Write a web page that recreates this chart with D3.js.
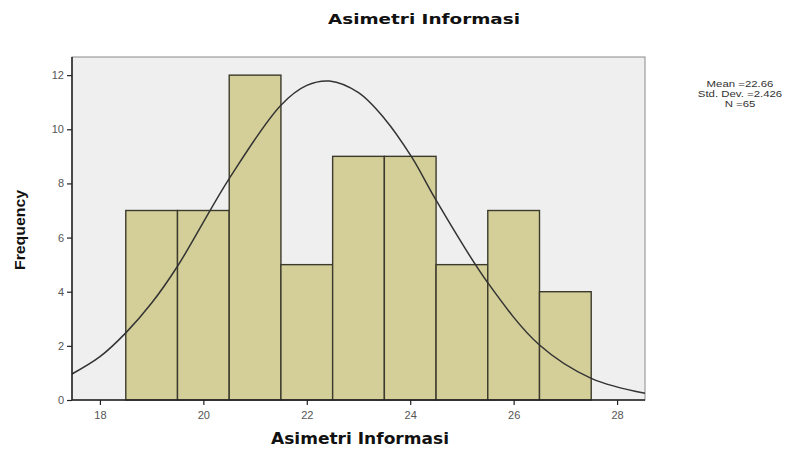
<!DOCTYPE html>
<html>
<head>
<meta charset="utf-8">
<script src="https://cdn.jsdelivr.net/npm/d3@7"></script>
<style>
  body { margin: 0; background: #fff; }
  svg { display: block; font-family: "Liberation Sans", Arial, sans-serif; }
  .tick text { fill: #555; font-size: 11px; }
</style>
</head>
<body>
<script>
// histogram bins (centre of each bin, width 1)
var binCenters = [19, 20, 21, 22, 23, 24, 25, 26, 27];
var frequencies = [7, 7, 12, 5, 9, 9, 5, 7, 4];

// normal curve, points
var curveX = [17.46, 18.0, 18.5, 19.0, 19.5, 20.5, 21.5, 22.0, 22.44, 23.0, 23.5, 24.03, 24.5, 25.5, 26.5, 27.5, 28.54];
var curveY = [0.96, 1.6, 2.48, 3.58, 4.94, 8.18, 10.89, 11.62, 11.78, 11.35, 10.4, 8.97, 7.38, 4.33, 2.03, 0.80, 0.25];

var xTicks = [18, 20, 22, 24, 26, 28];
var yTicks = [0, 2, 4, 6, 8, 10, 12];
var stats = ["Mean =22.66", "Std. Dev. =2.426", "N =65"];

var W = 807, H = 451;
var m = {left: 72, right: 162, top: 57, bottom: 51};

var svg = d3.select("body").append("svg").attr("width", W).attr("height", H);

var x = d3.scaleLinear().domain([17.46, 28.54]).range([m.left, W - m.right]);
var y = d3.scaleLinear().domain([0, 12.67]).range([H - m.bottom, m.top]);

//plot area
svg.append("rect")
  .attr("x", m.left).attr("y", m.top)
  .attr("width", W - m.left - m.right).attr("height", H - m.top - m.bottom)
  .attr("fill", "#efefef").attr("stroke", "#8a8a8a").attr("stroke-width", 1);

//bars
svg.append("g").selectAll("rect")
  .data(binCenters)
  .enter().append("rect")
  .attr("x", function(d){ return x(d - 0.5); })
  .attr("width", function(d){ return x(d + 0.5) - x(d - 0.5); })
  .attr("y", function(d, i){ return y(frequencies[i]); })
  .attr("height", function(d, i){ return y(0) - y(frequencies[i]); })
  .attr("fill", "#d4cf98")
  .attr("stroke", "#3b3a2c")
  .attr("stroke-width", 1.4);

//curve
var pts = curveX.map(function(d, i){ return [d, curveY[i]]; });
svg.append("path")
  .datum(pts)
  .attr("fill", "none")
  .attr("stroke", "#333")
  .attr("stroke-width", 1.5)
  .attr("d", d3.line()
    .x(function(d){ return x(d[0]); })
    .y(function(d){ return y(d[1]); })
    .curve(d3.curveCatmullRom.alpha(0.5)));

//axes
var xAxis = svg.append("g")
  .attr("transform", "translate(0," + (H - m.bottom) + ")")
  .call(d3.axisBottom(x).tickValues(xTicks).tickSize(5).tickPadding(6));
var yAxis = svg.append("g")
  .attr("transform", "translate(" + m.left + ",0)")
  .call(d3.axisLeft(y).tickValues(yTicks).tickSize(5).tickPadding(3));
[xAxis, yAxis].forEach(function(a){
  a.select(".domain").attr("stroke", "#222").attr("stroke-width", 1.5);
  a.selectAll(".tick line").attr("stroke", "#222").attr("stroke-width", 1.2);
});
xAxis.select(".domain").attr("d", "M" + m.left + ",0H" + (W - m.right));
yAxis.select(".domain").attr("d", "M0," + y(0) + "V" + m.top);

//titles
svg.append("text")
  .attr("x", 424).attr("y", 24)
  .attr("text-anchor", "middle")
  .attr("font-family", "'DejaVu Sans', sans-serif")
  .attr("font-size", "14px").attr("font-weight", "bold").attr("fill", "#111")
  .attr("textLength", 192).attr("lengthAdjust", "spacingAndGlyphs")
  .text("Asimetri Informasi");

svg.append("text")
  .attr("x", 360).attr("y", 444)
  .attr("text-anchor", "middle")
  .attr("font-family", "'DejaVu Sans', sans-serif")
  .attr("font-size", "15px").attr("font-weight", "bold").attr("fill", "#111")
  .attr("textLength", 178).attr("lengthAdjust", "spacingAndGlyphs")
  .text("Asimetri Informasi");

svg.append("text")
  .attr("transform", "translate(25,230) rotate(-90)")
  .attr("text-anchor", "middle")
  .attr("font-size", "15px").attr("font-weight", "bold").attr("fill", "#111")
  .attr("textLength", 80).attr("lengthAdjust", "spacingAndGlyphs")
  .text("Frequency");

//stats
svg.append("g").selectAll("text")
  .data(stats)
  .enter().append("text")
  .attr("x", 740)
  .attr("y", function(d, i){ return 87 + i * 10; })
  .attr("text-anchor", "middle")
  .attr("font-size", "9.5px").attr("fill", "#333")
  .text(function(d){ return d; })
  .each(function(){
    var len = this.getComputedTextLength();
    d3.select(this).attr("textLength", len * 1.2).attr("lengthAdjust", "spacingAndGlyphs");
  });
</script>
</body>
</html>
